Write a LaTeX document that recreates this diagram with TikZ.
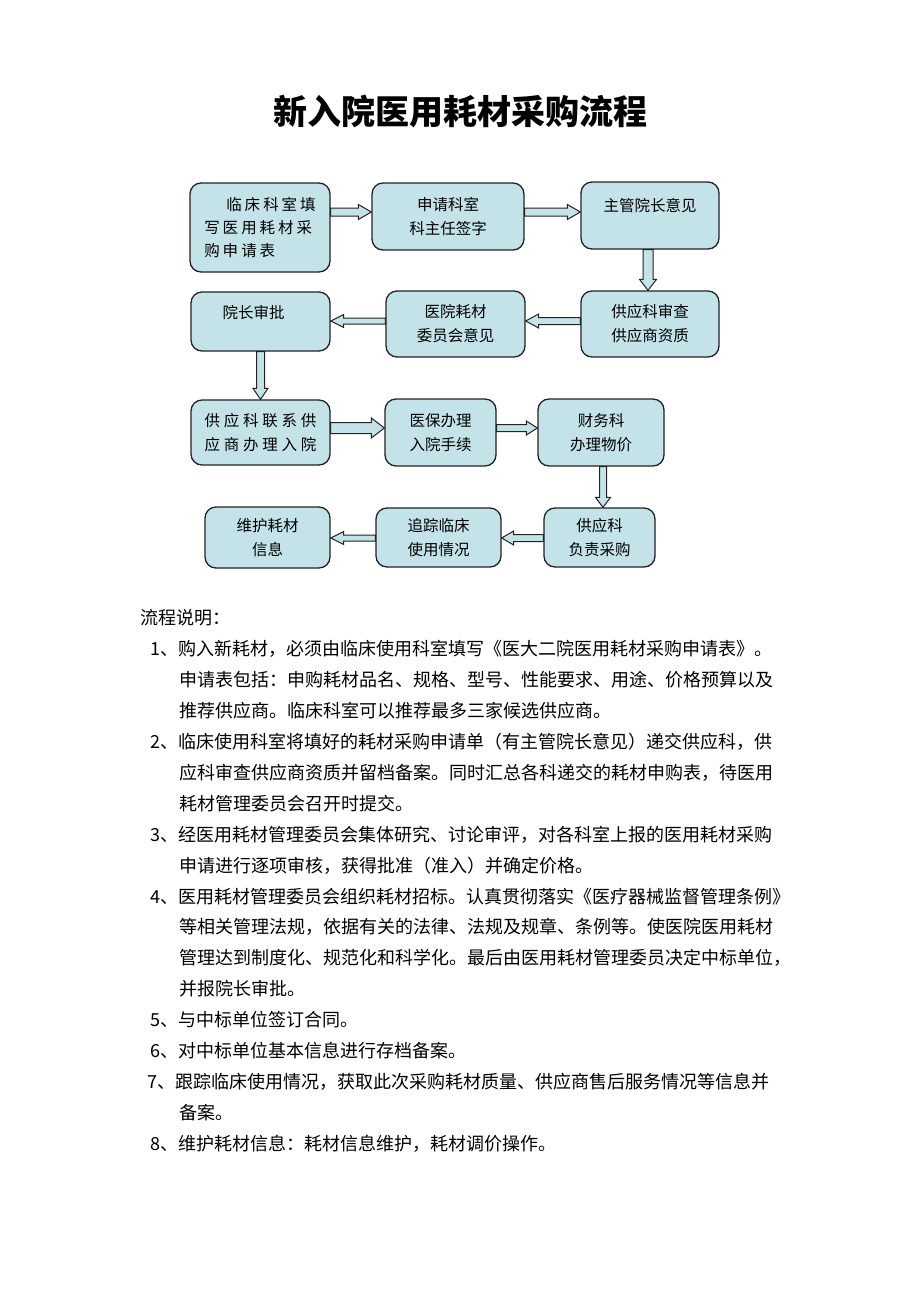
\documentclass[tikz,border=0pt]{standalone}
\usepackage{fontspec}
\newfontfamily\cjk{Noto Sans CJK SC}
\XeTeXlinebreaklocale "zh"
\XeTeXlinebreakskip=0pt plus 1pt minus 0.5pt
\usetikzlibrary{calc}
\definecolor{boxfill}{RGB}{196,227,233}
\definecolor{boxline}{RGB}{35,35,35}
\newcommand\bxfont{\cjk\fontsize{15.5}{24}\selectfont}
\newcommand\bxfontA{\cjk\fontsize{15.5}{23}\selectfont}
\newcommand\bdfont{\cjk\fontsize{18}{22}\selectfont}
\newcommand\ttlfont{\cjk\bfseries\fontsize{34}{40}\selectfont}
\newcommand\ka{\kern3pt}
\newcommand\kg{\kern3.8pt}
\tikzset{
  box/.style={draw=boxline, fill=boxfill, line width=1.3pt, rounded corners=11pt,
    inner sep=0pt, align=center, font=\bxfont},
  barrow/.style={draw=boxline, fill=boxfill, line width=1pt, line join=miter},
  bodyline/.style={anchor=base west, inner sep=0pt, font=\bdfont},
}
\newcommand\arR[5]{\draw[barrow] ($#1+(0,-#3)$) -- ($#2+(-#5,-#3)$) -- ($#2+(-#5,-#4)$) -- #2 -- ($#2+(-#5,#4)$) -- ($#2+(-#5,#3)$) -- ($#1+(0,#3)$) -- cycle;}
\newcommand\arL[5]{\draw[barrow] ($#1+(0,-#3)$) -- ($#2+(#5,-#3)$) -- ($#2+(#5,-#4)$) -- #2 -- ($#2+(#5,#4)$) -- ($#2+(#5,#3)$) -- ($#1+(0,#3)$) -- cycle;}
\newcommand\arD[5]{\draw[barrow] ($#1+(-#3,0)$) -- ($#2+(-#3,-#5)$) -- ($#2+(-#4,-#5)$) -- #2 -- ($#2+(#4,-#5)$) -- ($#2+(#3,-#5)$) -- ($#1+(#3,0)$) -- cycle;}
\begin{document}
\begin{tikzpicture}[x=1pt, y=-1pt]
\fill[white] (0,0) rectangle (920,1302);
\useasboundingbox (0,0) rectangle (920,1302);

% title
\node[inner sep=0pt, font=\ttlfont] (title) at (460,111) {新入院医用耗材采购流程};

% boxes
\node[box, minimum width=140pt, minimum height=89pt, align=left, font=\bxfontA] (A) at (260,227.5)
      {\hspace*{22pt}临\ka 床\ka 科\ka 室\ka 填\\写\ka 医\ka 用\ka 耗\ka 材\ka 采\\购\ka 申\ka 请\ka 表};
\node[box, minimum width=152pt, minimum height=67pt] (B) at (448,216.5) {申请科室\\科主任签字};
\node[box, minimum width=138pt, text height=29pt, text depth=38pt] (C) at (650,215.5) {主管院长意见};
\node[box, minimum width=139pt, text height=26pt, text depth=33pt] (D) at (260.5,321.5) {院长审批\hspace*{14pt}};
\node[box, minimum width=139pt, minimum height=66pt] (E) at (455.5,324) {医院耗材\\委员会意见};
\node[box, minimum width=138pt, minimum height=66pt] (F) at (650,324) {供应科审查\\供应商资质};
\node[box, minimum width=139pt, minimum height=65pt] (G) at (260.5,432.5)
      {供\kg 应\kg 科\kg 联\kg 系\kg 供\\应\kg 商\kg 办\kg 理\kg 入\kg 院};
\node[box, minimum width=111pt, minimum height=67pt] (H) at (440.5,432.5) {医保办理\\入院手续};
\node[box, minimum width=126pt, minimum height=67pt] (I) at (601,432.5) {财务科\\办理物价};
\node[box, minimum width=125pt, minimum height=61pt] (J) at (267.5,537.5) {维护耗材\\信息};
\node[box, minimum width=125pt, minimum height=59pt] (K) at (438.5,537.5) {追踪临床\\使用情况};
\node[box, minimum width=111pt, minimum height=59pt] (L) at (599.5,537.5) {供应科\\负责采购};

% arrow guide coordinates
\coordinate (ya) at (0,212);
\coordinate (yb) at (0,321);
\coordinate (yc) at (0,428);
\coordinate (yd) at (0,538);
\coordinate (xa) at (648,0);
\coordinate (xb) at (603,0);

% block arrows
\arR{(A.east|-ya)}{(B.west|-ya)}{4}{7.5}{13}
\arR{(B.east|-ya)}{(C.west|-ya)}{4}{7.5}{13}
\arD{(C.south-|xa)}{(F.north-|xa)}{5}{8.5}{11}
\arL{(F.west|-yb)}{(E.east|-yb)}{3.5}{7}{13}
\arL{(E.west|-yb)}{(D.east|-yb)}{3}{6.5}{13}
\arD{(D.south)}{(G.north)}{4}{7.5}{11}
\arR{(G.east|-yc)}{(H.west|-yc)}{5.5}{10}{13}
\arR{(H.east|-yc)}{(I.west|-yc)}{3.5}{7}{11}
\arD{(I.south-|xb)}{(L.north-|xb)}{3.5}{7.5}{10}
\arL{(L.west|-yd)}{(K.east|-yd)}{3.5}{7}{12}
\arL{(K.west|-yd)}{(J.east|-yd)}{3}{6.5}{13}

% explanation text
\node[bodyline] (l0) at (140,624.8) {流程说明：};
\node[bodyline] (l1) at (150,655.8) {\hbox to 635pt{1、购入新耗材，必须由临床使用科室填写《医大二院医用耗材采购申请表》。}};
\node[bodyline] (l2) at (179,686.7) {\hbox to 606pt{申请表包括：申购耗材品名、规格、型号、性能要求、用途、价格预算以及}};
\node[bodyline] (l3) at (179,717.6) {推荐供应商。临床科室可以推荐最多三家候选供应商。};
\node[bodyline] (l4) at (150,748.5) {\hbox to 635pt{2、临床使用科室将填好的耗材采购申请单（有主管院长意见）递交供应科，供}};
\node[bodyline] (l5) at (179,779.4) {\hbox to 606pt{应科审查供应商资质并留档备案。同时汇总各科递交的耗材申购表，待医用}};
\node[bodyline] (l6) at (179,810.3) {耗材管理委员会召开时提交。};
\node[bodyline] (l7) at (150,841.2) {\hbox to 635pt{3、经医用耗材管理委员会集体研究、讨论审评，对各科室上报的医用耗材采购}};
\node[bodyline] (l8) at (179,872.1) {申请进行逐项审核，获得批准（准入）并确定价格。};
\node[bodyline] (l9) at (150,903.0) {\hbox to 635pt{4、医用耗材管理委员会组织耗材招标。认真贯彻落实《医疗器械监督管理条例》}};
\node[bodyline] (l10) at (179,933.9) {\hbox to 606pt{等相关管理法规，依据有关的法律、法规及规章、条例等。使医院医用耗材}};
\node[bodyline] (l11) at (179,964.8) {\hbox to 606pt{管理达到制度化、规范化和科学化。最后由医用耗材管理委员决定中标单位，}};
\node[bodyline] (l12) at (179,995.7) {并报院长审批。};
\node[bodyline] (l13) at (150,1026.6) {5、与中标单位签订合同。};
\node[bodyline] (l14) at (150,1057.5) {6、对中标单位基本信息进行存档备案。};
\node[bodyline] (l15) at (147,1088.4) {\hbox to 638pt{7、跟踪临床使用情况，获取此次采购耗材质量、供应商售后服务情况等信息并}};
\node[bodyline] (l16) at (179,1119.3) {备案。};
\node[bodyline] (l17) at (150,1150.2) {8、维护耗材信息：耗材信息维护，耗材调价操作。};
\end{tikzpicture}
\end{document}
